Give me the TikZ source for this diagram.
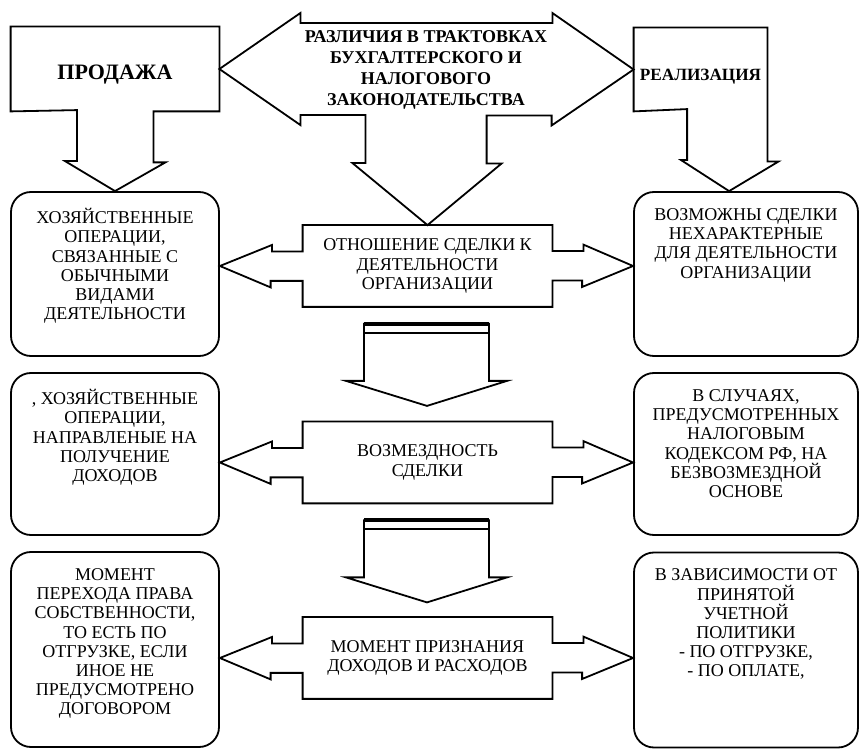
\documentclass[tikz,border=0pt]{standalone}
\usepackage{fontspec}
\setmainfont{Liberation Serif}
\usepackage{tikz}
\usetikzlibrary{positioning, calc}

\begin{document}
\begin{tikzpicture}[
  x=0.5pt, y=-0.5pt,
  sidebox/.style={rectangle, draw, rounded corners=10pt, line width=0.9pt},
  boxtext/.style={align=center, inner sep=0pt, font=\fontsize{9}{9.6}\selectfont},
  midbox/.style={rectangle, align=center, inner sep=0pt, minimum width=124.5pt, minimum height=40.5pt, font=\fontsize{9}{9.6}\selectfont},
  headbox/.style={rectangle, inner sep=0pt},
  headtext/.style={align=center, inner sep=0pt, font=\bfseries\fontsize{11}{13}\selectfont},
  block/.style={draw, line width=0.9pt, line join=miter}
]

\useasboundingbox (0,0) rectangle (859,749);

% Top nodes
\node[headbox, minimum width=104pt, minimum height=42pt] (sale) at (115,69) {};
\node[headbox, minimum width=66.5pt, minimum height=41.5pt] (realization) at (700.5,69.5) {};
\node[headtext] (sale_text) at ([yshift=-3pt]sale.center) {ПРОДАЖА};
\node[headtext, font=\bfseries\fontsize{8.6}{10}\selectfont] (realization_text) at ([yshift=-3.5pt]realization.center) {РЕАЛИЗАЦИЯ};
\node[align=center, inner sep=0pt, font=\bfseries\fontsize{9}{10.5}\selectfont] (difference) at (426,70)
  {РАЗЛИЧИЯ В ТРАКТОВКАХ\\БУХГАЛТЕРСКОГО И\\НАЛОГОВОГО\\ЗАКОНОДАТЕЛЬСТВА};

% Middle nodes
\node[midbox] (relation) at (427.5,266) {ОТНОШЕНИЕ СДЕЛКИ К\\ДЕЯТЕЛЬНОСТИ\\ОРГАНИЗАЦИИ};
\node[midbox] (compensation) at (427.5,462.5) {ВОЗМЕЗДНОСТЬ\\СДЕЛКИ};
\node[midbox] (recognition) at (427.5,658) {МОМЕНТ ПРИЗНАНИЯ\\ДОХОДОВ И РАСХОДОВ};

% Side boxes
\node[sidebox, minimum width=104pt, minimum height=82pt] (usual_ops) at (115,274) {};
\node[sidebox, minimum width=112pt, minimum height=82pt] (atypical_deals) at (746,274) {};
\node[sidebox, minimum width=104pt, minimum height=81pt] (income_ops) at (115,454) {};
\node[sidebox, minimum width=112pt, minimum height=81pt] (free_basis) at (746,454) {};
\node[sidebox, minimum width=104pt, minimum height=97.5pt] (ownership) at (115,649.5) {};
\node[sidebox, minimum width=112pt, minimum height=97.5pt] (policy) at (746,650) {};

% Side box texts
\node[boxtext, below=8.5pt of usual_ops.north] (usual_ops_text)
  {ХОЗЯЙСТВЕННЫЕ\\ОПЕРАЦИИ,\\СВЯЗАННЫЕ С\\ОБЫЧНЫМИ\\ВИДАМИ\\ДЕЯТЕЛЬНОСТИ};
\node[boxtext, below=8.5pt of atypical_deals.north] (atypical_deals_text)
  {ВОЗМОЖНЫ СДЕЛКИ\\НЕХАРАКТЕРНЫЕ\\ДЛЯ ДЕЯТЕЛЬНОСТИ\\ОРГАНИЗАЦИИ};
\node[boxtext, below=8.5pt of income_ops.north] (income_ops_text)
  {, ХОЗЯЙСТВЕННЫЕ\\ОПЕРАЦИИ,\\НАПРАВЛЕНЫЕ НА\\ПОЛУЧЕНИЕ\\ДОХОДОВ};
\node[boxtext, below=8.5pt of free_basis.north] (free_basis_text)
  {В СЛУЧАЯХ,\\ПРЕДУСМОТРЕННЫХ\\НАЛОГОВЫМ\\КОДЕКСОМ РФ, НА\\БЕЗВОЗМЕЗДНОЙ\\ОСНОВЕ};
\node[boxtext, below=8.5pt of ownership.north] (ownership_text)
  {МОМЕНТ\\ПЕРЕХОДА ПРАВА\\СОБСТВЕННОСТИ,\\ТО ЕСТЬ ПО\\ОТГРУЗКЕ, ЕСЛИ\\ИНОЕ НЕ\\ПРЕДУСМОТРЕНО\\ДОГОВОРОМ};
\node[boxtext, below=8.5pt of policy.north] (policy_text)
  {В ЗАВИСИМОСТИ ОТ\\ПРИНЯТОЙ\\УЧЕТНОЙ\\ПОЛИТИКИ\\- ПО ОТГРУЗКЕ,\\- ПО ОПЛАТЕ,};

% Top callouts
\draw[block] (sale.south west) -- (sale.north west) -- (sale.north east) -- (sale.south east)
  -- ++(-66,0) -- ++(0,51) -- ++(12,0) -- (usual_ops.north) -- ++(-50,-30) -- ++(12,0) -- ++(0,-51) -- cycle;
\draw[block] (realization.south west) -- (realization.north west) -- (realization.north east)
  -- ++(0,134) -- ++(11,0) -- ($(atypical_deals.north west)+(96,0)$) -- ++(-48,-31) -- ++(6,0) -- ++(0,-51) -- cycle;
\draw[block] (sale.east) -- ++(81,-56) -- ++(0,10) -- ++(252,0) -- ++(0,-10) -- (realization.west)
  -- ++(-82,56) -- ++(0,-10) -- ++(-65,0) -- ++(0,48) -- ++(15,0) -- (relation.north)
  -- ++(-75,-62) -- ++(13,0) -- ++(0,-48) -- ++(-65,0) -- ++(0,10) -- cycle;

% Row arrows
\draw[block] (usual_ops.east |- relation.west) -- ++(52,-21) -- ++(0,6.5) -| (relation.north west)
  -- (relation.north east) |- ++(31,26) -- ++(0,-6.5) -- (atypical_deals.west |- relation.east)
  -- ++(-51,21) -- ++(0,-6.5) -| (relation.south east) -- (relation.south west) -- ++(0,-26) -- ++(-32,0) -- ++(0,6.5) -- cycle;
\draw[block] (income_ops.east |- compensation.west) -- ++(52,-21) -- ++(0,6.5) -| (compensation.north west)
  -- (compensation.north east) |- ++(31,26) -- ++(0,-6.5) -- (free_basis.west |- compensation.east)
  -- ++(-51,21) -- ++(0,-6.5) -| (compensation.south east) -- (compensation.south west) -- ++(0,-26) -- ++(-32,0) -- ++(0,6.5) -- cycle;
\draw[block] (ownership.east |- recognition.west) -- ++(52,-21) -- ++(0,6.5) -| (recognition.north west)
  -- (recognition.north east) |- ++(31,26) -- ++(0,-6.5) -- (policy.west |- recognition.east)
  -- ++(-51,21) -- ++(0,-6.5) -| (recognition.south east) -- (recognition.south west) -- ++(0,-26) -- ++(-32,0) -- ++(0,6.5) -- cycle;

% Down arrows
\draw[block] ($(relation.south)+(-63.5,17)$) -- ++(0,57) -- ++(-18,0) -- ++(81,25) -- ++(80,-25) -- ++(-18,0) -- ++(0,-57) -- cycle;
\draw[line width=2pt] ($(relation.south)+(-63.5,17)$) -- ++(125,0);
\draw[line width=1pt] ($(relation.south)+(-63.5,26)$) -- ++(125,0);
\draw[block] ($(compensation.south)+(-63.5,17)$) -- ++(0,57) -- ++(-18,0) -- ++(81,25) -- ++(80,-25) -- ++(-18,0) -- ++(0,-57) -- cycle;
\draw[line width=2pt] ($(compensation.south)+(-63.5,17)$) -- ++(125,0);
\draw[line width=1pt] ($(compensation.south)+(-63.5,26)$) -- ++(125,0);

\end{tikzpicture}
\end{document}
